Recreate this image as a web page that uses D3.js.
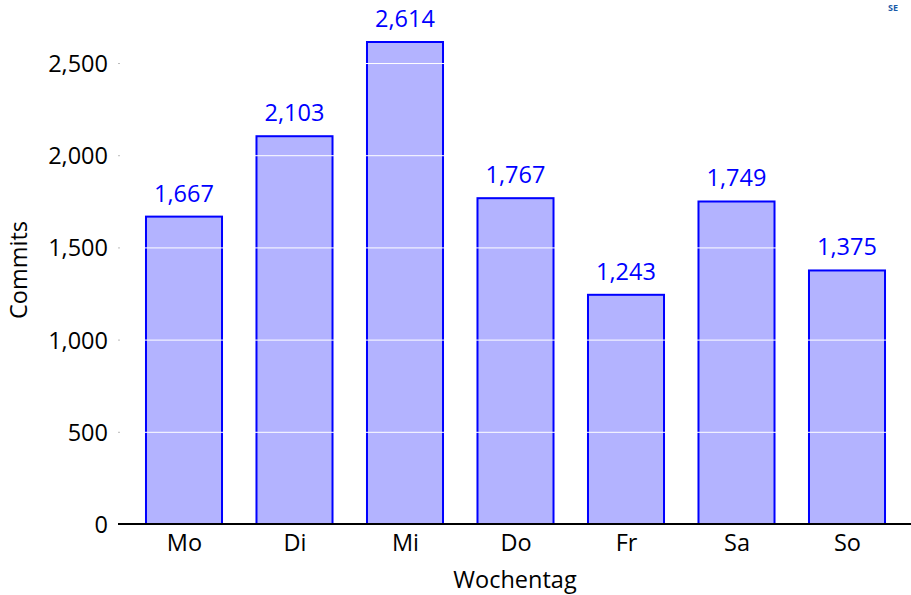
<!DOCTYPE html>
<html><head><meta charset="utf-8">
<script src="https://cdn.jsdelivr.net/npm/d3@7"></script>
<style>
body{margin:0;background:#fff;}
text{font-family:"Open Sans","DejaVu Sans",sans-serif;}
</style></head>
<body><svg id="c" width="911" height="595"></svg>
<script>
const categories = ["Mo","Di","Mi","Do","Fr","Sa","So"];
const commits = [1667,2103,2614,1767,1243,1749,1375];
const yTicks = [0,500,1000,1500,2000,2500];
const xTitle = "Wochentag";
const yTitle = "Commits";

const FONT = "Open Sans, DejaVu Sans, sans-serif";
const FS = 23.5;
const svg = d3.select("#c");
const fmt = d3.format(",");
const x = d3.scalePoint().domain(categories).range([184,847]);
const barW = x.step()*0.688;
const y = d3.scaleLinear().domain([0,2614]).range([524,42]);

svg.append("g").selectAll("rect").data(commits).join("rect")
  .attr("x",(d,i)=>x(categories[i])-barW/2)
  .attr("y",d=>y(d))
  .attr("width",barW)
  .attr("height",d=>y(0)-y(d))
  .attr("fill","#b3b3ff")
  .attr("stroke","#0000ff")
  .attr("stroke-width",2);

// white grid lines over bars
svg.append("g").selectAll("line").data(yTicks.filter(t=>t>0)).join("line")
  .attr("x1",120).attr("x2",911)
  .attr("y1",d=>y(d)+0.5).attr("y2",d=>y(d)+0.5)
  .attr("stroke","#fff").attr("stroke-width",1);

// y axis
const yAxis = d3.axisLeft(y).tickValues(yTicks).tickFormat(fmt).tickSize(2).tickPadding(10);
const ya = svg.append("g").attr("transform","translate(120,0)").call(yAxis);
ya.select(".domain").remove();
ya.selectAll(".tick line").attr("stroke","#bbb");
ya.selectAll(".tick text").attr("font-size",FS).attr("fill","#000").attr("font-family",FONT).attr("dy","0.36em");

// x axis
const xAxis = d3.axisBottom(x).tickSize(0).tickPadding(10);
const xa = svg.append("g").attr("transform","translate(0,524)").call(xAxis);
xa.select(".domain").remove();
xa.selectAll(".tick text").attr("font-size",FS).attr("fill","#000").attr("font-family",FONT);
svg.append("line").attr("x1",118).attr("x2",911).attr("y1",y(0)).attr("y2",y(0))
  .attr("stroke","#000").attr("stroke-width",2);

// value labels
svg.append("g").selectAll("text").data(commits).join("text")
  .attr("x",(d,i)=>x(categories[i]))
  .attr("y",d=>y(d)-15)
  .attr("text-anchor","middle")
  .attr("font-size",FS)
  .attr("fill","#0000ff")
  .text(d=>fmt(d));

// titles
svg.append("text").attr("x",515).attr("y",588).attr("text-anchor","middle")
  .attr("font-size",FS).attr("fill","#000").text(xTitle);
svg.append("text").attr("transform","translate(27,270) rotate(-90)").attr("text-anchor","middle")
  .attr("font-size",FS).attr("fill","#000").text(yTitle);

// small logo fragment top-right
svg.append("text").attr("x",888).attr("y",11).attr("font-size",9).attr("font-weight","bold")
  .attr("fill","#1a5aa8").text("SE");
</script></body></html>
